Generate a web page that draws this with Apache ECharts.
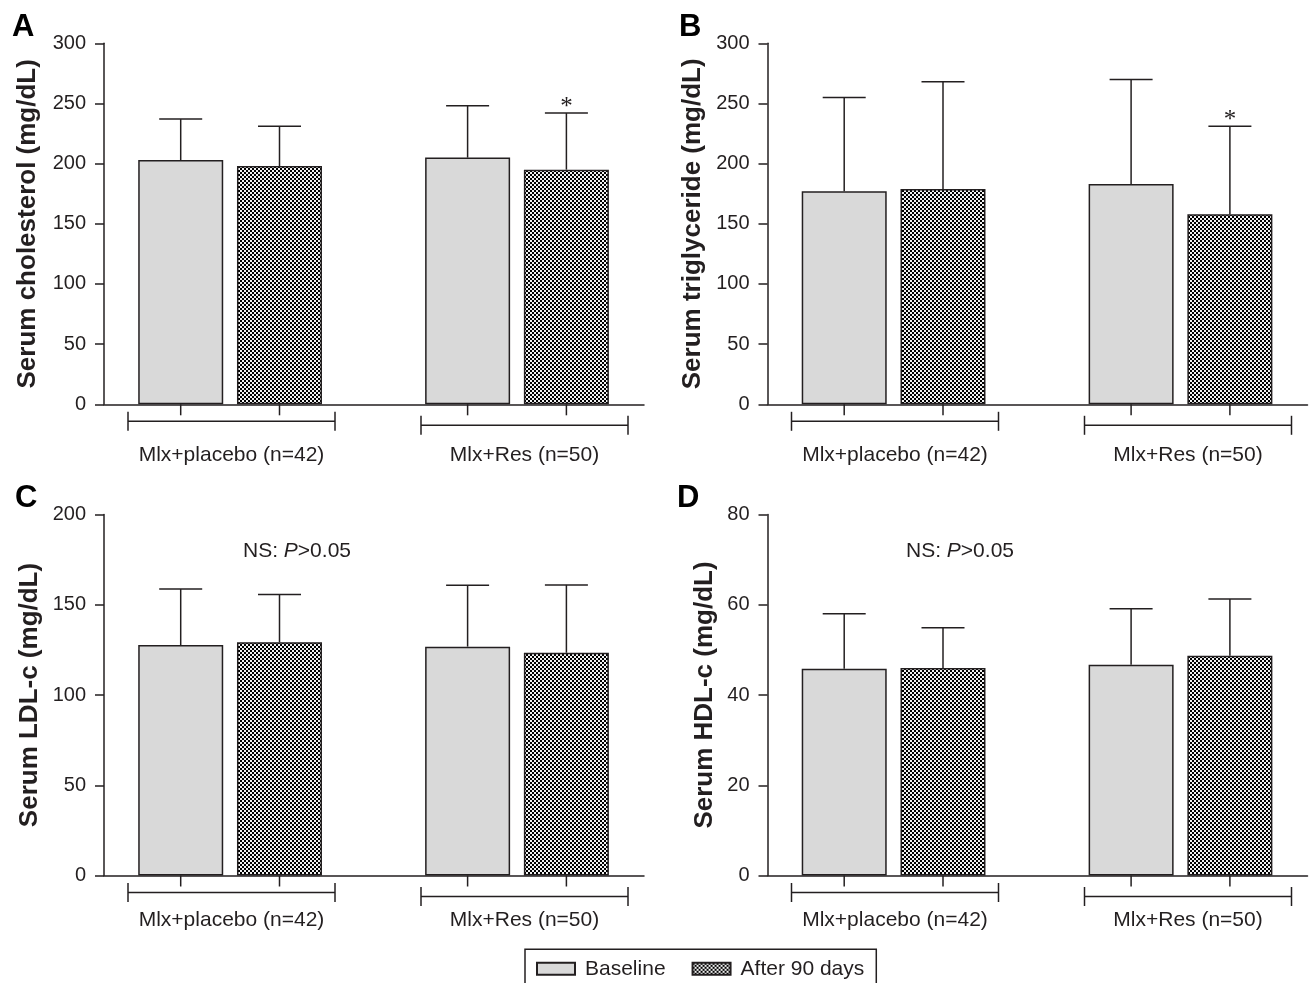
<!DOCTYPE html>
<html>
<head>
<meta charset="utf-8">
<script src="https://cdn.jsdelivr.net/npm/echarts@6/dist/echarts.min.js"></script>
<style>
    html, body { margin: 0; padding: 0; background: #fff; }
    #chart { width: 1309px; height: 983px; }
</style>
</head>
<body>
<div id="chart"></div>
<script>
// groups on the x axis
const groups = ['Mlx+placebo (n=42)', 'Mlx+Res (n=50)']
const seriesNames = ['Baseline', 'After 90 days']

// A: serum cholesterol, mean and SD
const cholBase = [203, 205]
const cholBaseSD = [34, 43]
const cholAfter = [198, 195]
const cholAfterSD = [33, 47]
const cholMarks = ['', '*']

// B: serum triglyceride
const trigBase = [177, 183]
const trigBaseSD = [78, 87]
const trigAfter = [179, 158]
const trigAfterSD = [89, 73]
const trigMarks = ['', '*']

// C: serum LDL-c
const ldlBase = [127.7, 126.8]
const ldlBaseSD = [31, 34]
const ldlAfter = [129.2, 123.4]
const ldlAfterSD = [26.5, 37.6]

// D: serum HDL-c
const hdlBase = [45.8, 46.7]
const hdlBaseSD = [12.2, 12.4]
const hdlAfter = [46, 48.7]
const hdlAfterSD = [8.9, 12.6]

// y axis ranges
const cholTicks = { max: 300, interval: 50 }
const trigTicks = { max: 300, interval: 50 }
const ldlTicks = { max: 200, interval: 50 }
const hdlTicks = { max: 80, interval: 20 }

const FONT = "'Liberation Sans', Arial, Helvetica, sans-serif"
const INK = '#231f20'
const GRAY = '#d9d9d9'

// layout (px), the x axis runs 0..5.4 in slot units
const X_MAX = 5.4
const groupX = [1.261, 4.13]
const bracketX = [[0.24, 2.31], [3.17, 5.24]]
const bracketDrop = [17, 21]
const BAR_W = 85
const BAR_GAP = 13.8
const PITCH = BAR_W + BAR_GAP

function checker() {
    const c = document.createElement('canvas')
    c.width = 4
    c.height = 4
    const ctx = c.getContext('2d')
    ctx.fillStyle = '#f2f2f2'
    ctx.fillRect(0, 0, 4, 4)
    ctx.fillStyle = '#000'
    ctx.fillRect(0, 0, 2, 2)
    ctx.fillRect(2, 2, 2, 2)
    return c
}
const checkerFill = { image: checker(), repeat: 'repeat' }

function errRenderer(side, marks) {
    return function (params, api) {
        const x = api.value(0)
        const m = api.value(1)
        const sd = api.value(2)
        const bot = api.coord([x, m])
        const top = api.coord([x, m + sd])
        const cx = bot[0] + side * PITCH / 2
        const st = { stroke: INK, lineWidth: 1.5 }
        const children = [
            { type: 'line', shape: { x1: cx, y1: bot[1], x2: cx, y2: top[1] }, style: st },
            { type: 'line', shape: { x1: cx - 21.5, y1: top[1], x2: cx + 21.5, y2: top[1] }, style: st }
        ]
        const mark = marks && marks[params.dataIndex]
        if (mark) {
            children.push({
                type: 'text', x: cx, y: top[1] - 6,
                style: { text: mark, fontSize: 25, fontFamily: "'Liberation Serif', serif", fill: INK, align: 'center', verticalAlign: 'middle' }
            })
        }
        return { type: 'group', children: children }
    }
}

function bracketRenderer(labelDrop) {
    return function (params, api) {
        const g = params.dataIndex
        const a = api.coord([api.value(0), 0])
        const b = api.coord([api.value(1), 0])
        const c = api.coord([groupX[g], 0])
        const y0 = a[1]
        const yb = y0 + bracketDrop[g]
        const st = { stroke: INK, lineWidth: 1.5 }
        return {
            type: 'group',
            children: [
                { type: 'line', shape: { x1: c[0] - PITCH / 2, y1: y0, x2: c[0] - PITCH / 2, y2: y0 + 11 }, style: st },
                { type: 'line', shape: { x1: c[0] + PITCH / 2, y1: y0, x2: c[0] + PITCH / 2, y2: y0 + 11 }, style: st },
                { type: 'line', shape: { x1: a[0], y1: yb, x2: b[0], y2: yb }, style: st },
                { type: 'line', shape: { x1: a[0], y1: yb - 9.5, x2: a[0], y2: yb + 9.5 }, style: st },
                { type: 'line', shape: { x1: b[0], y1: yb - 9.5, x2: b[0], y2: yb + 9.5 }, style: st },
                {
                    type: 'text', x: (a[0] + b[0]) / 2, y: y0 + labelDrop,
                    style: { text: groups[g], fontSize: 21, fontFamily: FONT, fill: INK, align: 'center', verticalAlign: 'middle' }
                }
            ]
        }
    }
}

const grids = []
const xAxes = []
const yAxes = []
const series = []

function addPanel(i, box, title, nameGap, ticks, base, baseSD, after, afterSD, marks, labelDrop) {
    grids.push({ left: box[0], top: box[1], width: 540, height: 361 })
    xAxes.push({
        gridIndex: i, type: 'value', min: 0, max: X_MAX,
        axisLine: { show: true, lineStyle: { color: INK, width: 1.5 } },
        axisTick: { show: false }, axisLabel: { show: false }, splitLine: { show: false }
    })
    yAxes.push({
        gridIndex: i, type: 'value', min: 0, max: ticks.max, interval: ticks.interval,
        name: title, nameLocation: 'middle', nameGap: nameGap,
        nameTextStyle: { fontSize: 26, fontWeight: 'bold', fontFamily: FONT, color: INK },
        axisLine: { show: true, lineStyle: { color: INK, width: 1.5 } },
        axisTick: { show: true, inside: false, length: 9, lineStyle: { color: INK, width: 1.5 } },
        axisLabel: { fontSize: 20, fontFamily: FONT, color: INK, margin: 18 },
        splitLine: { show: false }
    })
    const baseData = groupX.map((x, k) => [x, base[k]])
    const afterData = groupX.map((x, k) => [x, after[k]])
    series.push({
        name: seriesNames[0], type: 'bar', xAxisIndex: i, yAxisIndex: i,
        barWidth: BAR_W, barGap: (BAR_GAP / BAR_W * 100).toFixed(1) + '%',
        itemStyle: { color: GRAY, borderColor: INK, borderWidth: 1.5 },
        data: baseData, z: 2
    })
    series.push({
        name: seriesNames[1], type: 'bar', xAxisIndex: i, yAxisIndex: i,
        barWidth: BAR_W, barGap: (BAR_GAP / BAR_W * 100).toFixed(1) + '%',
        itemStyle: { color: checkerFill, borderColor: INK, borderWidth: 1.5 },
        data: afterData, z: 2
    })
    series.push({
        type: 'custom', xAxisIndex: i, yAxisIndex: i, clip: false, z: 3,
        renderItem: errRenderer(-1, null),
        encode: { x: 0, y: 1 },
        data: groupX.map((x, k) => [x, base[k], baseSD[k]])
    })
    series.push({
        type: 'custom', xAxisIndex: i, yAxisIndex: i, clip: false, z: 3,
        renderItem: errRenderer(1, marks),
        encode: { x: 0, y: 1 },
        data: groupX.map((x, k) => [x, after[k], afterSD[k]])
    })
    series.push({
        type: 'custom', xAxisIndex: i, yAxisIndex: i, clip: false, z: 3,
        renderItem: bracketRenderer(labelDrop),
        encode: { x: [0, 1], y: 2 },
        data: bracketX.map(b => [b[0], b[1], 0])
    })
}

addPanel(0, [104, 43.3], 'Serum cholesterol (mg/dL)', 63, cholTicks, cholBase, cholBaseSD, cholAfter, cholAfterSD, cholMarks, 51)
addPanel(1, [767.5, 43.3], 'Serum triglyceride (mg/dL)', 62, trigTicks, trigBase, trigBaseSD, trigAfter, trigAfterSD, trigMarks, 51)
addPanel(2, [104, 514.5], 'Serum LDL-c (mg/dL)', 61, ldlTicks, ldlBase, ldlBaseSD, ldlAfter, ldlAfterSD, null, 45)
addPanel(3, [767.5, 514.5], 'Serum HDL-c (mg/dL)', 50, hdlTicks, hdlBase, hdlBaseSD, hdlAfter, hdlAfterSD, null, 45)

function letter(t, x, y) {
    return { type: 'text', x: x, y: y, style: { text: t, fontSize: 31, fontWeight: 'bold', fontFamily: FONT, fill: '#000', verticalAlign: 'middle' } }
}
function nsNote(x, y) {
    return {
        type: 'text', x: x, y: y,
        style: {
            text: 'NS: {i|P}>0.05', fontSize: 21, fontFamily: FONT, fill: INK, align: 'center', verticalAlign: 'middle',
            rich: { i: { fontStyle: 'italic', fontSize: 21, fontFamily: FONT, fill: INK } }
        }
    }
}

const chart = echarts.init(document.getElementById('chart'), null, { renderer: 'canvas' })
const option = {
    backgroundColor: '#fff',
    animation: false,
    textStyle: { fontFamily: FONT },
    grid: grids,
    xAxis: xAxes,
    yAxis: yAxes,
    legend: {
        data: seriesNames, left: 525, top: 949.3, icon: 'rect',
        itemWidth: 38, itemHeight: 12, itemGap: 26,
        padding: [9, 12, 40, 11],
        borderColor: INK, borderWidth: 1.5, selectedMode: false,
        textStyle: { fontSize: 21, fontFamily: FONT, color: INK, padding: [0, 0, 0, 5] }
    },
    graphic: [
        letter('A', 12, 27),
        letter('B', 679, 27),
        letter('C', 15, 498),
        letter('D', 677, 498),
        nsNote(297, 551),
        nsNote(960, 551)
    ],
    series: series
}
chart.setOption(option)
window.addEventListener('resize', chart.resize)
</script>
</body>
</html>
